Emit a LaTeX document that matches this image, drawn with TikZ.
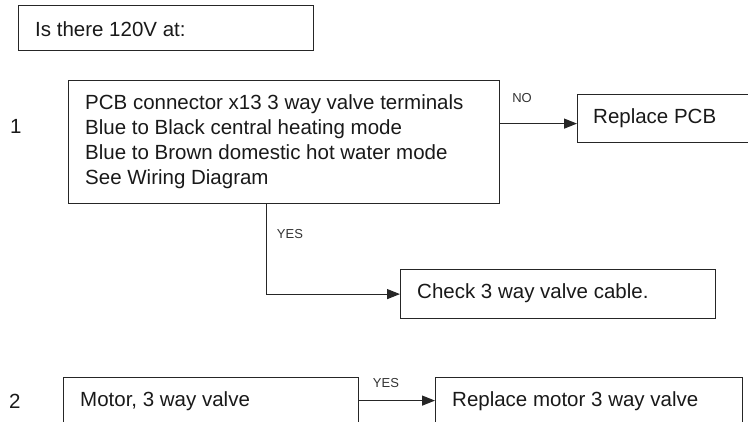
\documentclass[tikz,border=0pt]{standalone}
\usepackage{fontspec}
\setmainfont{Liberation Sans}
\usetikzlibrary{arrows.meta}
\begin{document}
\begin{tikzpicture}[x=1pt,y=-1pt,
  box/.style={draw=black!85,line width=1.2pt,anchor=north west,inner sep=0pt},
  txt/.style={anchor=west,inner sep=0pt,font=\fontsize{20.5}{25}\selectfont,align=left,text=black!90},
  lbl/.style={inner sep=0pt,font=\fontsize{13}{15}\selectfont,text=black!80},
  arr/.style={draw=black!85,line width=1.2pt,-{Triangle[length=13pt,width=10pt]}}]
\useasboundingbox (0,0) rectangle (748,421);
\clip (0,0) rectangle (748,421);
% question box
\node[box,minimum width=295pt,minimum height=45pt] (q) at (18,5) {};
\node[txt] (qt) at (35,29) {Is there 120V at:};
% step 1
\node[txt] (n1) at (10,126) {1};
\node[box,minimum width=431pt,minimum height=123pt] (b1) at (68,80) {};
\node[txt] (b1t) at (85,142) {PCB connector x13 3 way valve terminals\\
Blue to Black central heating mode\\
Blue to Brown domestic hot water mode\\
See Wiring Diagram};
\node[box,minimum width=190pt,minimum height=48pt] (pcb) at (577,94) {};
\node[txt] (pcbt) at (593,118.5) {Replace PCB};
\node[box,minimum width=315pt,minimum height=49pt] (chk) at (400,269) {};
\node[txt] (chkt) at (417,293) {Check 3 way valve cable.};
% step 2
\node[txt] (n2) at (9,401) {2};
\node[box,minimum width=295pt,minimum height=46pt] (mot) at (63,377) {};
\node[txt] (mott) at (80,401) {Motor, 3 way valve};
\node[box,minimum width=307pt,minimum height=46pt] (rm) at (435,377) {};
\node[txt] (rmt) at (452,401) {Replace motor 3 way valve};
% connectors
\path (pcb.west) ++(0,5) coordinate (pcbin);
\draw[arr] (b1.east |- pcbin) -- (pcbin);
\path (b1.south) ++(-17.5,0) coordinate (ydown);
\draw[arr] (ydown) |- (chk.west);
\draw[arr] (mot.east) -- (rm.west);
% labels
\node[lbl] (no) at (522,98) {NO};
\node[lbl] (yes1) at (290,234) {YES};
\node[lbl] (yes2) at (386,383) {YES};
\end{tikzpicture}
\end{document}
